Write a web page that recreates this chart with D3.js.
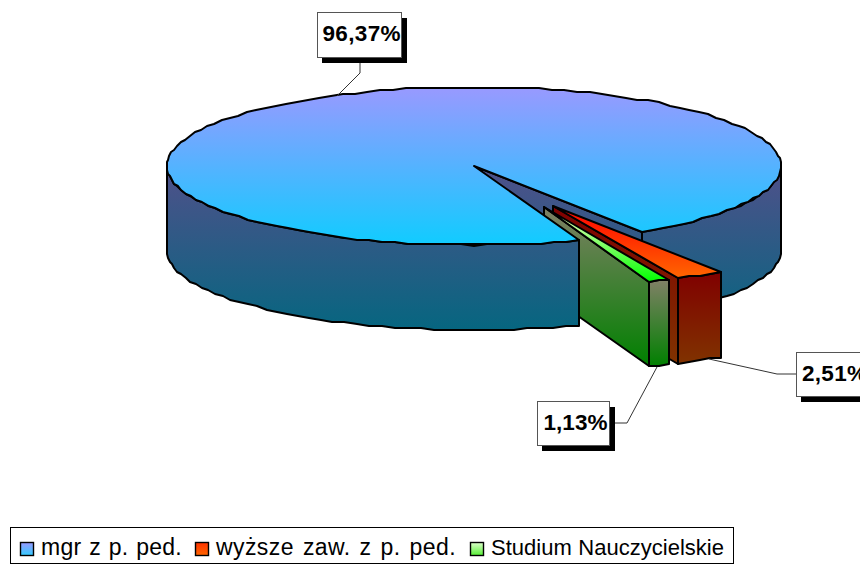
<!DOCTYPE html>
<html><head><meta charset="utf-8">
<script src="https://cdn.jsdelivr.net/npm/d3@7"></script>
<style>html,body{margin:0;padding:0;background:#fff;overflow:hidden}svg{display:block}</style>
</head><body><svg id="c" width="860" height="564"></svg>
<script>
const categories = ["mgr z p. ped.", "wyższe zaw. z p. ped.", "Studium Nauczycielskie"];
const values = [96.37, 2.51, 1.13];
const valueLabels = ["96,37%", "2,51%", "1,13%"];
const topColors = [["#9999ff", "#10ccff"], ["#ff0000", "#ff6600"], ["#ffffcc", "#00ff00"]];
const wallColors = [["#50508a", "#066680"], ["#800000", "#803300"], ["#808066", "#008000"]];
const legendSwatch = [["#9999ff", "#33ccff"], ["#ff3300", "#ff6600"], ["#ddffcc", "#55ee33"]];

const cx = 474, cy = 166, rx = 307, ry = 79, depth = 85;
const explode = [[0, 0], [79, 40], [70, 41]];
const rad = d => d * Math.PI / 180;
const svg = d3.select("#c");
const defs = svg.append("defs");
const lg = (id, c, user) => {
  const g = defs.append("linearGradient").attr("id", id).attr("x1", 0).attr("x2", 0);
  if (user) g.attr("gradientUnits", "userSpaceOnUse").attr("y1", user[0]).attr("y2", user[1]);
  else g.attr("y1", 0).attr("y2", 1);
  g.append("stop").attr("offset", 0).attr("stop-color", c[0]);
  g.append("stop").attr("offset", 1).attr("stop-color", c[1]);
  return `url(#${id})`;
};

// d3.pie gives angles clockwise from +x on the projected ellipse
const start = rad(70);
const arcs = d3.pie().sort(null).startAngle(start).endAngle(start + 2 * Math.PI)(values);

const line = d3.line();
const pt = (a, i, dz = 0) => [
  Math.round(cx + explode[i][0] + rx * Math.cos(a)),
  Math.round((cy + explode[i][1] + ry * Math.sin(a) + dz) / 2) * 2
];
const sweep = (a0, a1, i, dz = 0) => {
  const n = Math.max(1, Math.ceil(Math.abs(a1 - a0) / rad(2.5)));
  return d3.range(n + 1).map(k => pt(a0 + (a1 - a0) * k / n, i, dz));
};
const apex = (i, dz = 0) => [cx + explode[i][0], cy + explode[i][1] + dz];
const draw = (pts, fill) => svg.append("path").attr("d", line(pts) + "Z")
  .attr("fill", fill).attr("stroke", "#000").attr("stroke-width", 2).attr("stroke-linejoin", "round");

const TAU = 2 * Math.PI;
const main = arcs[0];
const mainWall = lg("w0", wallColors[0], [cy, cy + ry + depth]);
const outer = (a0, a1, i, fill) => draw(sweep(a0, a1, i).concat(sweep(a1, a0, i, depth)), fill);

// 1. main slice: cut face and right-hand wall sit behind the exploded slices
draw([apex(0), pt(main.endAngle, 0), pt(main.endAngle, 0, depth), apex(0, depth)], mainWall);
outer(TAU, main.endAngle, 0, mainWall);

// 2. exploded slices
[1, 2].forEach(i => {
  const d = arcs[i];
  draw([apex(i), pt(d.endAngle, i), pt(d.endAngle, i, depth), apex(i, depth)], lg("cut" + i, wallColors[i]));
  outer(d.startAngle, d.endAngle, i, lg("out" + i, wallColors[i]));
  draw([apex(i)].concat(sweep(d.startAngle, d.endAngle, i)), lg("t" + i, topColors[i]));
});

// 3. main slice: front wall and top face over them
outer(main.startAngle, Math.PI, 0, mainWall);
draw([apex(0)].concat(sweep(main.startAngle, main.endAngle, 0)), lg("t0", topColors[0], [cy - ry, cy + ry]));

// Data labels
const labelBoxes = [
  {x: 317, y: 12, w: 84, h: 45, tx: 5.5, tw: 78, leader: [[360, 57], [360, 73], [337, 96]]},
  {x: 796, y: 352, w: 84, h: 44, tx: 6, tw: 65, leader: [[796, 374], [777, 374], [709, 359]]},
  {x: 537, y: 401, w: 72, h: 44, tx: 6.5, tw: 64, leader: [[609, 423], [627, 423], [657, 367]]}
];
labelBoxes.forEach((b, i) => {
  svg.append("path").attr("d", line(b.leader)).attr("fill", "none")
    .attr("stroke", "#333").attr("stroke-width", 1);
  svg.append("rect").attr("x", b.x + 5).attr("y", b.y + 6).attr("width", b.w + 1).attr("height", b.h).attr("fill", "#000");
  svg.append("rect").attr("x", b.x + .5).attr("y", b.y + .5).attr("width", b.w).attr("height", b.h)
    .attr("fill", "#fff").attr("stroke", "#555").attr("stroke-width", 1);
  svg.append("text").attr("x", b.x + b.tx).attr("y", b.y + 28.5)
    .attr("font-family", "Liberation Sans, Arial, sans-serif").attr("font-weight", "bold")
    .attr("font-size", 22.5).attr("textLength", b.tw).attr("fill", "#000").text(valueLabels[i]);
});

// Legend
svg.append("rect").attr("x", 10.5).attr("y", 527.5).attr("width", 723).attr("height", 36)
  .attr("fill", "#fff").attr("stroke", "#000").attr("stroke-width", 1);
const legendX = d3.scaleOrdinal().domain(categories).range([20, 195, 470]);
const legendW = [141, 240, 233];
const legendFont = [23, 23, 22];
categories.forEach((c, i) => {
  const x = legendX(c);
  svg.append("rect").attr("x", x + .5).attr("y", 542.5).attr("width", 13).attr("height", 13)
    .attr("fill", lg("lg" + i, legendSwatch[i]))
    .attr("stroke", "#000").attr("stroke-width", 1.4);
  const t = svg.append("text").attr("x", x + 21).attr("y", 555)
    .attr("font-family", "Liberation Sans, Arial, sans-serif").attr("font-size", legendFont[i])
    .attr("fill", "#000").text(c);
  const excess = legendW[i] - t.node().getComputedTextLength();
  t.attr("letter-spacing", excess * 0.5 / c.length)
   .attr("word-spacing", excess * 0.5 / (c.split(" ").length - 1));
});
</script></body></html>
